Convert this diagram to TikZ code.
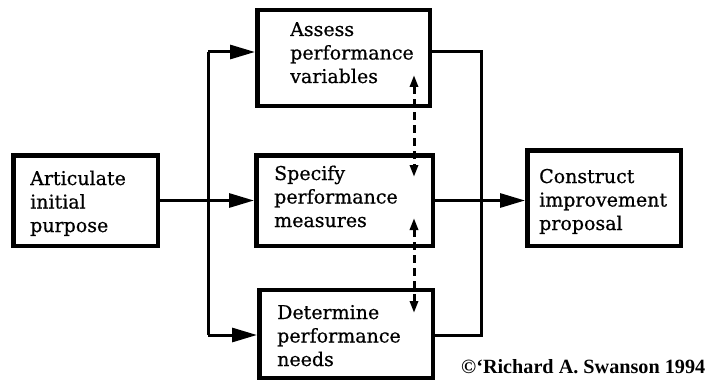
\documentclass[tikz,border=0pt]{standalone}
\usepackage{fontspec}
\setmainfont{DejaVu Serif}
\newfontfamily\copyfont{Liberation Serif}
\usetikzlibrary{arrows.meta}
\begin{document}
\begin{tikzpicture}[x=1pt,y=-1pt,
  box/.style={draw, line width=4.5pt, rectangle, inner sep=0pt},
  txt/.style={align=left, inner sep=0pt, anchor=base west, font=\fontsize{19}{23.5}\selectfont\addfontfeature{FakeBold=0.6}},
  arr/.style={line width=3pt, -{Triangle[length=25pt,width=14pt]}},
  link/.style={line width=3pt},
  darr/.style={line width=3pt, dash pattern=on 8pt off 5pt, {Triangle[length=12pt,width=8pt]}-{Triangle[length=12pt,width=8pt]}},
  copy/.style={inner sep=0pt, anchor=base west, font=\copyfont\bfseries\fontsize{20.2}{22}\selectfont}]
\useasboundingbox (0,0) rectangle (708,385);
% boxes
\node[box, minimum width=144.5pt, minimum height=90.5pt] (art) at (85.5,200.5) {};
\node[box, minimum width=172.5pt, minimum height=95.5pt] (assess) at (343.5,58) {};
\node[box, minimum width=176.5pt, minimum height=90.5pt] (spec) at (344.5,200.5) {};
\node[box, minimum width=173.5pt, minimum height=88pt] (det) at (346,334) {};
\node[box, minimum width=153.5pt, minimum height=95.5pt] (cons) at (604,198) {};
% texts (anchored at the baseline of the last line)
\node[txt] (artT) at (30,232) {Articulate\\initial\\purpose};
\node[txt] (assessT) at (290,83) {Assess\\performance\\variables};
\node[txt] (specT) at (274,227) {Specify\\performance\\measures};
\node[txt] (detT) at (277,366) {Determine\\performance\\needs};
\node[txt] (consT) at (539,230) {Construct\\improvement\\proposal};
\node[copy] (copyT) at (461,373) {©‘Richard A. Swanson 1994};
% connectors
\coordinate (jt) at (208,52);
\coordinate (jb) at (208,335);
\coordinate (rt) at (481,52);
\coordinate (rb) at (481,335);
\draw[link] (jt) -- (jb);
\draw[arr] (jt) -- (assess.west |- jt);
\draw[arr] (jb) -- (det.west |- jb);
\draw[arr] (art.east) -- (spec.west |- art.east);
\draw[link] (assess.east |- rt) -- (rt) -- (rb) -- (det.east |- rb);
\draw[arr] (spec.east) -- (cons.west |- spec.east);
% dashed double arrows
\coordinate (d1a) at (414,75);
\coordinate (d1b) at (414,177);
\coordinate (d2a) at (414,218);
\coordinate (d2b) at (414,313);
\draw[darr] (d1a) -- (d1b);
\draw[darr] (d2a) -- (d2b);
\end{tikzpicture}
\end{document}
